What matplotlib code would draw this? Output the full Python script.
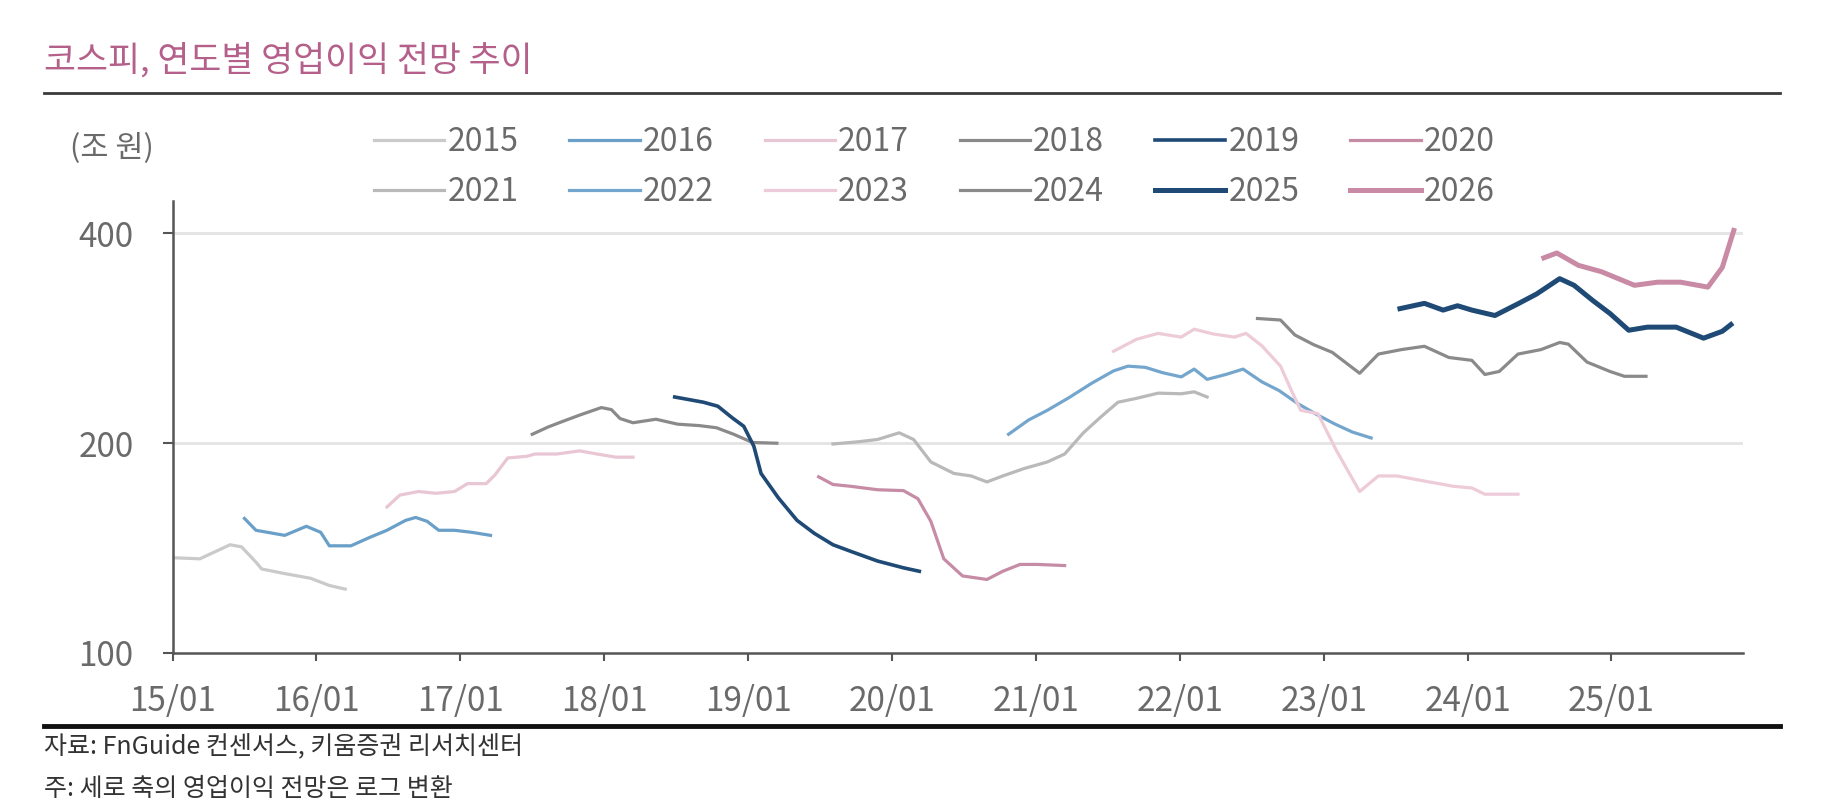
import matplotlib
matplotlib.use("Agg")
import matplotlib.pyplot as plt
from matplotlib.lines import Line2D
from matplotlib.ticker import FixedLocator, NullLocator

plt.rcParams['font.family'] = ['Noto Sans CJK KR', 'DejaVu Sans']

# ---------------- data (x = decimal year, y = 조 원) ----------------
x2015 = [2015.00, 2015.19, 2015.40, 2015.48, 2015.58, 2015.62, 2015.78, 2015.96, 2016.09, 2016.20]
y2015 = [137, 136.5, 143, 142, 135, 132, 130, 128, 125, 123.5]

x2016 = [2015.50, 2015.58, 2015.66, 2015.78, 2015.93, 2016.03, 2016.09, 2016.24, 2016.37, 2016.49,
         2016.62, 2016.69, 2016.77, 2016.85, 2016.96, 2017.08, 2017.21]
y2016 = [156, 150, 149, 147.5, 152, 149, 142.5, 142.5, 146.5, 150, 155, 156.5, 154.5, 150, 150, 149, 147.5]

x2017 = [2016.49, 2016.58, 2016.71, 2016.83, 2016.96, 2017.05, 2017.18, 2017.24, 2017.33, 2017.46,
         2017.52, 2017.67, 2017.83, 2017.95, 2018.08, 2018.20]
y2017 = [162, 168.5, 170.5, 169.5, 170.5, 175, 175, 180, 190.5, 191.5, 193, 193, 195, 193, 191, 191]

x2018 = [2017.50, 2017.61, 2017.70, 2017.83, 2017.98, 2018.05, 2018.11, 2018.20, 2018.36, 2018.51,
         2018.66, 2018.78, 2018.90, 2019.03, 2019.20]
y2018 = [206, 211, 214.5, 219.5, 225, 223.5, 217, 214, 216.5, 213, 212, 210.5, 206, 200.5, 200]

x2019 = [2018.49, 2018.69, 2018.79, 2018.89, 2018.97, 2019.04, 2019.09, 2019.21, 2019.34, 2019.46,
         2019.59, 2019.71, 2019.90, 2020.08, 2020.19]
y2019 = [233, 229, 226, 217.5, 211.5, 198, 181, 167, 155, 148.5, 143, 140, 135.5, 132.5, 131]

x2020 = [2019.49, 2019.59, 2019.71, 2019.90, 2020.08, 2020.18, 2020.27, 2020.36, 2020.49, 2020.66,
         2020.77, 2020.89, 2021.01, 2021.20]
y2020 = [179, 174.5, 173.5, 171.5, 171, 166.5, 154.5, 136.5, 129, 127.5, 131, 134, 134, 133.5]

x2021 = [2019.59, 2019.77, 2019.90, 2020.05, 2020.15, 2020.27, 2020.43, 2020.55, 2020.66, 2020.77,
         2020.92, 2021.08, 2021.20, 2021.33, 2021.45, 2021.57, 2021.70, 2021.85, 2022.01, 2022.10, 2022.19]
y2021 = [199.5, 201, 202.5, 207, 202.5, 188, 181, 179.5, 176, 179.5, 184, 188, 193, 207, 218, 229,
         232, 236, 235.5, 237, 233]

x2022 = [2020.81, 2020.95, 2021.08, 2021.23, 2021.39, 2021.54, 2021.64, 2021.76, 2021.88, 2022.01,
         2022.10, 2022.19, 2022.32, 2022.44, 2022.57, 2022.69, 2022.82, 2022.95, 2023.08, 2023.20, 2023.33]
y2022 = [206, 216, 223, 232.5, 244, 254, 258, 257, 252.5, 249, 255.5, 247, 251, 255.5, 245, 238,
         228, 220, 213, 207.5, 203.5]

x2023 = [2021.54, 2021.70, 2021.85, 2022.01, 2022.10, 2022.23, 2022.38, 2022.46, 2022.57, 2022.70,
         2022.78, 2022.84, 2022.96, 2023.09, 2023.25, 2023.38, 2023.51, 2023.70, 2023.90, 2024.03,
         2024.12, 2024.35]
y2023 = [271, 282, 287.5, 284, 291.5, 287, 284, 287.5, 276, 258, 237, 223, 220.5, 195, 170.5, 179.5,
         179.5, 176.5, 173.5, 172.5, 169, 169]

x2024 = [2022.54, 2022.70, 2022.80, 2022.93, 2023.06, 2023.25, 2023.38, 2023.54, 2023.70, 2023.87,
         2024.03, 2024.12, 2024.22, 2024.35, 2024.51, 2024.64, 2024.70, 2024.83, 2024.99, 2025.09, 2025.24]
y2024 = [302, 300.5, 286, 277, 270, 252, 268.5, 272.5, 275.5, 265.5, 263, 251, 253.5, 268.5, 272.5,
         279, 277.5, 261.5, 253.5, 249.5, 249.5]

x2025 = [2023.53, 2023.70, 2023.83, 2023.93, 2024.03, 2024.19, 2024.35, 2024.48, 2024.64, 2024.74,
         2024.87, 2024.99, 2025.12, 2025.25, 2025.45, 2025.64, 2025.77, 2025.83]
y2025 = [312, 317.5, 310.5, 315, 310.5, 305, 317, 327.5, 344.5, 337, 320.5, 307, 290.5, 293.5,
         293.5, 283, 289.5, 296]

x2026 = [2024.53, 2024.62, 2024.77, 2024.93, 2025.16, 2025.32, 2025.48, 2025.67, 2025.77, 2025.85]
y2026 = [369, 375, 360, 352.5, 337, 340.5, 340.5, 335, 357.5, 404]

years = ['2015', '2016', '2017', '2018', '2019', '2020',
         '2021', '2022', '2023', '2024', '2025', '2026']
xs = [x2015, x2016, x2017, x2018, x2019, x2020, x2021, x2022, x2023, x2024, x2025, x2026]
ys = [y2015, y2016, y2017, y2018, y2019, y2020, y2021, y2022, y2023, y2024, y2025, y2026]

colors = ['#cacaca', '#6a9fc8', '#e9c6d4', '#8a8a8a', '#1f4a75', '#c68ca6',
          '#b9b9b9', '#74a6cd', '#edcbd8', '#8a8a8a', '#1f4a75', '#c98aa5']
widths = [2.3, 2.3, 2.3, 2.3, 2.6, 2.3, 2.3, 2.3, 2.3, 2.3, 3.6, 3.6]

xtick_pos = [2015, 2016, 2017, 2018, 2019, 2020, 2021, 2022, 2023, 2024, 2025]
xtick_labels = ['15/01', '16/01', '17/01', '18/01', '19/01', '20/01',
                '21/01', '22/01', '23/01', '24/01', '25/01']
ytick_pos = [100, 200, 400]
ytick_labels = ['100', '200', '400']

title = '코스피, 연도별 영업이익 전망 추이'
unit = '(조 원)'
note1 = '자료: FnGuide 컨센서스, 키움증권 리서치센터'
note2 = '주: 세로 축의 영업이익 전망은 로그 변환'

# ---------------- figure ----------------
W, H = 1828, 800
fig = plt.figure(figsize=(W / 100, H / 100), dpi=100)
fig.patch.set_facecolor('white')

ax = fig.add_axes([172.5 / W, 147 / H, (1743 - 172.5) / W, (653 - 200.5) / H])
ax.set_yscale('log')
ax.set_xlim(2015.0, 2025.914)
ax.set_ylim(100, 446)

for yv in [200, 400]:
    ax.axhline(yv, color='#e4e4e4', lw=2.0, zorder=0)

lines = []
for x, y, c, w, lab in zip(xs, ys, colors, widths, years):
    ln, = ax.plot(x, y, color=c, lw=w, label=lab, solid_joinstyle='round', zorder=2)
    lines.append(ln)

for s in ['top', 'right']:
    ax.spines[s].set_visible(False)
for s in ['left', 'bottom']:
    ax.spines[s].set_color('#555555')
    ax.spines[s].set_linewidth(1.8)

ax.yaxis.set_major_locator(FixedLocator(ytick_pos))
ax.yaxis.set_minor_locator(NullLocator())
ax.set_yticklabels(ytick_labels)
ax.set_xticks(xtick_pos)
ax.set_xticklabels(xtick_labels)

for lbl in ax.get_xticklabels() + ax.get_yticklabels():
    lbl.set_fontsize(24)
    lbl.set_color('#6a6a6a')
ax.tick_params(axis='x', direction='out', length=6, width=1.5, color='#555555', pad=16)
ax.tick_params(axis='y', direction='out', length=7, width=1.5, color='#555555', pad=21)

# legend: two rows of six
order = [0, 6, 1, 7, 2, 8, 3, 9, 4, 10, 5, 11]
leg = fig.legend([lines[i] for i in order], [years[i] for i in order],
                 ncol=6, loc='upper left', bbox_to_anchor=(358 / W, 1 - 110 / H),
                 frameon=False, handlelength=2.2, handletextpad=0.1,
                 columnspacing=1.59, labelspacing=0.56, borderpad=0.0,
                 prop={'size': 23})
for t in leg.get_texts():
    t.set_color('#6a6a6a')

# title, rules and notes
fig.text(44 / W, 1 - 61 / H, title, fontsize=25, color='#b4608a', va='center', ha='left')
fig.add_artist(Line2D([44 / W, 1780 / W], [1 - 93 / H, 1 - 93 / H], color='#3a3a3a', lw=2.0))
fig.add_artist(Line2D([44 / W, 1780 / W], [1 - 726 / H, 1 - 726 / H], color='#111111', lw=3.5))
fig.text(70 / W, 1 - 148 / H, unit, fontsize=22, color='#6a6a6a', va='center', ha='left')
fig.text(44 / W, 1 - 746 / H, note1, fontsize=18, color='#333333', va='center', ha='left')
fig.text(44 / W, 1 - 789 / H, note2, fontsize=18, color='#333333', va='center', ha='left')

fig.savefig('out.png', dpi=100, facecolor='white')
